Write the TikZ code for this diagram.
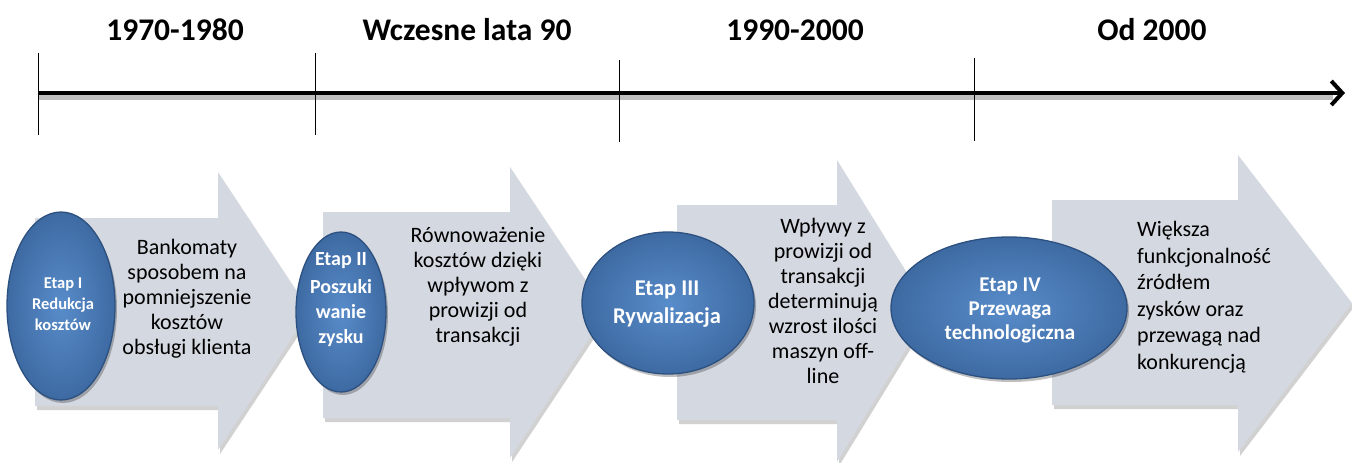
\documentclass[tikz,border=0pt]{standalone}
\usepackage{fontspec}
\setmainfont{Carlito}
\usetikzlibrary{shapes.geometric,arrows.meta,shadows}
\definecolor{arrowgray}{RGB}{212,216,224}
\definecolor{ellin}{RGB}{88,140,202}
\definecolor{ellout}{RGB}{62,106,162}
\definecolor{elldraw}{RGB}{44,80,128}
\tikzset{
  blockarrow/.style={fill=arrowgray, draw=none,
    drop shadow={shadow xshift=2pt, shadow yshift=-4pt, fill=black, opacity=0.18}},
  stage/.style={ellipse, inner sep=0pt, draw=elldraw, line width=1.3pt,
    inner color=ellin, outer color=ellout,
    drop shadow={shadow xshift=2pt, shadow yshift=-3pt, fill=black, opacity=0.25}},
  stagetext/.style={text=white, align=center, inner sep=0pt},
  bodytext/.style={text=black, align=center, inner sep=0pt,
    font=\fontsize{22}{25}\selectfont},
  period/.style={font=\bfseries\fontsize{31.5}{36}\selectfont, inner sep=0pt},
  tick/.style={draw=black, line width=0.8pt},
  axis/.style={draw=black, line width=4pt, -{Straight Barb[length=11pt,width=24pt,line width=4pt]}},
  axisshadow/.style={draw=black!25, line width=5pt}
}
\begin{document}
\begin{tikzpicture}[x=1pt,y=-1pt]
\useasboundingbox (0,0) rectangle (1352,463);

% period labels
\node[period] (p1) at (175,30) {1970-1980};
\node[period] (p2) at (467,30) {Wczesne lata 90};
\node[period] (p3) at (795,30) {1990-2000};
\node[period] (p4) at (1152,30) {Od 2000};

% axis
\coordinate (a0) at (38,93);
\coordinate (a1) at (1345,93);
\draw[axisshadow] ([yshift=-4pt]a0) -- ([yshift=-4pt,xshift=-12pt]a1);
\draw[axis] (a0) -- (a1);

% ticks
\coordinate (t1a) at (38,53);  \coordinate (t1b) at (38,135);
\coordinate (t2a) at (315,53); \coordinate (t2b) at (315,135);
\coordinate (t3a) at (619,60); \coordinate (t3b) at (619,142);
\coordinate (t4a) at (974,58); \coordinate (t4b) at (974,141);
\draw[tick] (t1a) -- (t1b);
\draw[tick] (t2a) -- (t2b);
\draw[tick] (t3a) -- (t3b);
\draw[tick] (t4a) -- (t4b);

% block arrows
\path[blockarrow] (35,218) -- (218,218) -- (218,172) -- (310,311) -- (218,450) -- (218,406) -- (35,406) -- cycle;
\path[blockarrow] (323,212) -- (510,212) -- (510,167) -- (607,312) -- (510,458) -- (510,418) -- (323,418) -- cycle;
\path[blockarrow] (677,205) -- (837,205) -- (837,160) -- (930,310) -- (837,462) -- (837,420) -- (677,420) -- cycle;
\path[blockarrow] (1052,200) -- (1238,200) -- (1238,155) -- (1352,303) -- (1238,452) -- (1238,405) -- (1052,405) -- cycle;

% arrow texts
\node[bodytext] (b1) at (187,299) {Bankomaty\\sposobem na\\pomniejszenie\\kosztów\\obsługi klienta};
\node[bodytext] (b2) at (478,287) {Równoważenie\\kosztów dzięki\\wpływom z\\prowizji od\\transakcji};
\node[bodytext] (b3) at (823,301) {Wpływy z\\prowizji od\\transakcji\\determinują\\wzrost ilości\\maszyn off-\\line};
\node[bodytext, anchor=west, align=left, font=\fontsize{22}{26.5}\selectfont] (b4) at (1137,297) {Większa\\funkcjonalność\\źródłem\\zysków oraz\\przewagą nad\\konkurencją};

% stage ellipses
\node[stage, minimum width=108pt, minimum height=188pt] (e1) at (61,306) {};
\node[stage, minimum width=90pt, minimum height=160pt] (e2) at (341,312) {};
\node[stage, minimum width=172pt, minimum height=142pt] (e3) at (668,303) {};
\node[stage, minimum width=236pt, minimum height=142pt] (e4) at (1009,308) {};

\node[stagetext, font=\bfseries\fontsize{16.5}{21}\selectfont] (s1) at (63,304) {Etap I\\Redukcja\\kosztów};
\node[stagetext, font=\bfseries\fontsize{20}{25}\selectfont] (s2) at (341,300) {Etap II\\[3pt]Poszuki\\wanie\\zysku};
\node[stagetext, font=\bfseries\fontsize{22.5}{28}\selectfont] (s3) at (667,304) {Etap III\\Rywalizacja};
\node[stagetext, font=\bfseries\fontsize{21}{24}\selectfont] (s4) at (1010,310) {Etap IV\\Przewaga\\technologiczna};
\end{tikzpicture}
\end{document}
